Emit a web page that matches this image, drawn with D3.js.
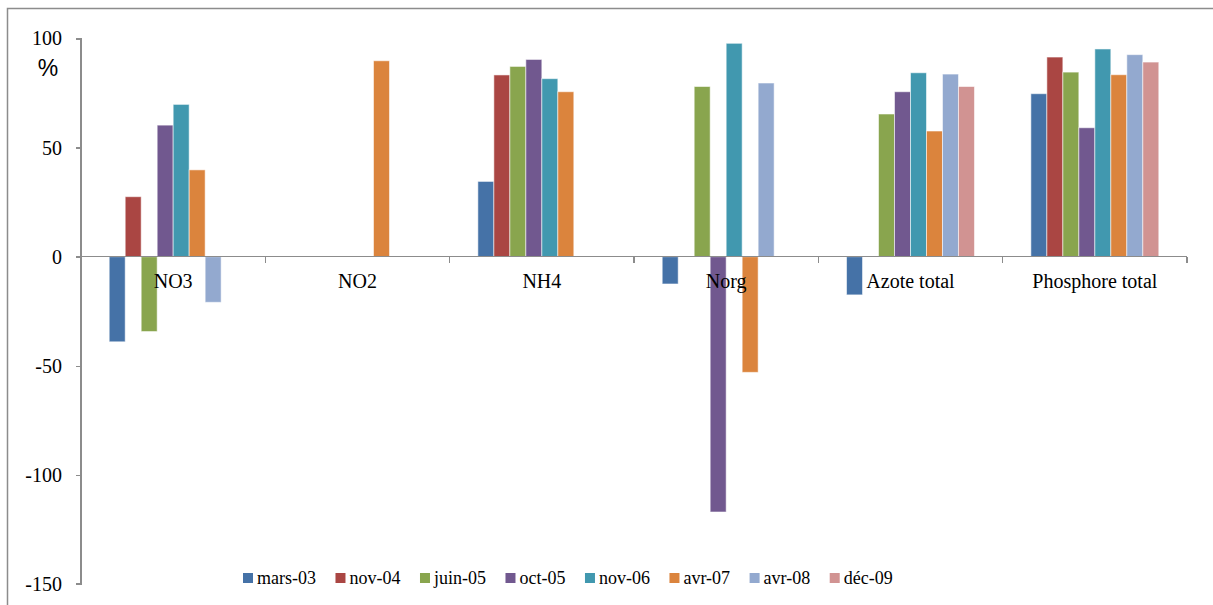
<!DOCTYPE html>
<html lang="fr">
<head>
	<meta charset="utf-8">
	<title>Rendement d'élimination (%)</title>
	<script src="https://cdn.jsdelivr.net/npm/d3@7"></script>
	<style type="text/css">
		body {
			margin: 0;
			background: #fff;
		}
		.axis path,
		.axis line {
			stroke: #8c8c8c;
			stroke-width: 1.5px;
			shape-rendering: crispEdges;
		}
		.axis text {
			font-family: "Liberation Serif", "Times New Roman", serif;
			font-size: 20px;
			fill: #000;
		}
		.legend text {
			font-family: "Liberation Serif", "Times New Roman", serif;
			font-size: 18px;
		}
	</style>
</head>
<body>
	<script type="text/javascript">

		var w = 1213;
		var h = 605;

		var categories = ["NO3", "NO2", "NH4", "Norg", "Azote total", "Phosphore total"];
		var series = ["mars-03", "nov-04", "juin-05", "oct-05", "nov-06", "avr-07", "avr-08", "déc-09"];
		var colors = ["#4572A7", "#AA4643", "#89A54E", "#71588F", "#4198AF", "#DB843D", "#93A9CF", "#D19392"];

		// one array per series, values per category (null = no bar)
		var mars03 = [-39, null, 34.5, -12.5, -17.5, 74.7];
		var nov04  = [27.5, null, 83.3, null, null, 91.5];
		var juin05 = [-34.3, null, 87.2, 78, 65.4, 84.6];
		var oct05  = [60.3, null, 90.4, -117, 75.6, 59.1];
		var nov06  = [69.8, null, 81.6, 97.8, 84.3, 95.2];
		var avr07  = [39.8, 89.8, 75.6, -53, 57.6, 83.4];
		var avr08  = [-20.9, null, null, 79.6, 83.7, 92.6];
		var dec09  = [null, null, null, null, 78, 89.2];
		var values = [mars03, nov04, juin05, oct05, nov06, avr07, avr08, dec09];

		var yTicks = [-150, -100, -50, 0, 50, 100];

		var plotLeft = 81, plotRight = 1187, plotTop = 38.5, plotBottom = 584;

		var xScale = d3.scaleBand()
			.domain(categories)
			.range([plotLeft, plotRight])
			.padding(0);

		var xInner = d3.scaleBand()
			.domain(series)
			.range([28.2, xScale.bandwidth() - 28.2])
			.padding(0);

		var yScale = d3.scaleLinear()
			.domain([-150, 100])
			.range([plotBottom, plotTop]);

		var svg = d3.select("body")
			.append("svg")
			.attr("width", w)
			.attr("height", h);

		//Frame
		svg.append("path")
			.attr("d", "M7.5," + h + "V8.5H" + w)
			.attr("fill", "none")
			.attr("stroke", "#8c8c8c")
			.attr("stroke-width", 1.5);

		//Y axis
		var yAxis = d3.axisLeft(yScale)
			.tickValues(yTicks)
			.tickFormat(function(d) { return String(d); })
			.tickSize(5)
			.tickSizeOuter(0)
			.tickPadding(14);

		var gy = svg.append("g")
			.attr("class", "axis")
			.attr("transform", "translate(" + plotLeft + ",0)")
			.call(yAxis);
		gy.select(".domain").attr("d", "M-5," + yScale(100) + "H0V" + yScale(-150) + "H-5");

		//Bars
		var groups = svg.selectAll("g.serie")
			.data(series)
			.enter()
			.append("g")
			.attr("class", "serie")
			.attr("fill", function(d, i) { return colors[i]; });

		groups.selectAll("rect")
			.data(function(d, i) {
				return categories.map(function(c, j) {
					return { cat: c, serie: d, v: values[i][j] };
				}).filter(function(o) { return o.v !== null; });
			})
			.enter()
			.append("rect")
			.attr("x", function(d) { return xScale(d.cat) + xInner(d.serie); })
			.attr("y", function(d) { return yScale(Math.max(0, d.v)); })
			.attr("width", xInner.bandwidth())
			.attr("height", function(d) { return Math.abs(yScale(d.v) - yScale(0)); })
			.attr("stroke", "rgba(255,255,255,0.55)")
			.attr("stroke-width", 1);

		//X axis at zero
		var gx = svg.append("g")
			.attr("class", "axis")
			.attr("transform", "translate(0," + yScale(0) + ")");

		gx.append("line")
			.attr("x1", plotLeft)
			.attr("x2", plotRight)
			.attr("y1", 0)
			.attr("y2", 0);

		var bounds = categories.map(function(c) { return xScale(c); }).concat([plotRight]);
		gx.selectAll("line.tick")
			.data(bounds.slice(1))
			.enter()
			.append("line")
			.attr("class", "tick")
			.attr("x1", function(d) { return d; })
			.attr("x2", function(d) { return d; })
			.attr("y1", 0)
			.attr("y2", 6);

		gx.selectAll("text")
			.data(categories)
			.enter()
			.append("text")
			.attr("x", function(d) { return xScale(d) + xScale.bandwidth() / 2; })
			.attr("y", 31)
			.attr("text-anchor", "middle")
			.text(function(d) { return d; });

		//% label
		svg.append("text")
			.attr("x", 48)
			.attr("y", 76)
			.attr("text-anchor", "middle")
			.attr("font-family", "Liberation Sans, Arial, sans-serif")
			.attr("font-size", "23px")
			.text("%");

		//Legend
		var legend = svg.append("g")
			.attr("class", "legend")
			.attr("transform", "translate(243,578)");

		var lx = 0;
		series.forEach(function(s, i) {
			var item = legend.append("g").attr("transform", "translate(" + lx + ",0)");
			item.append("rect")
				.attr("x", 0)
				.attr("y", -5)
				.attr("width", 10)
				.attr("height", 10)
				.attr("fill", colors[i]);
			var t = item.append("text")
				.attr("x", 14)
				.attr("y", 6)
				.text(s);
			lx += 14 + t.node().getComputedTextLength() + 19.5;
		});

	</script>
</body>
</html>
